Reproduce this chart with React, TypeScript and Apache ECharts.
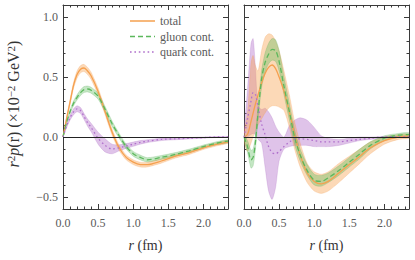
import React, { useEffect, useRef } from 'react';
import * as echarts from 'echarts';

// ---------- data ----------
const rLeft = [0, 0.05, 0.1, 0.15, 0.2, 0.25, 0.3, 0.35, 0.4, 0.5, 0.6, 0.7, 0.8, 0.9, 1.0, 1.1, 1.2, 1.4, 1.6, 1.8, 2.0, 2.2, 2.35];
const totalLeft = [0, 0.15, 0.29, 0.43, 0.52, 0.565, 0.575, 0.55, 0.51, 0.38, 0.21, 0.04, -0.09, -0.17, -0.21, -0.23, -0.23, -0.2, -0.16, -0.13, -0.09, -0.06, -0.04];
const totalLeftErr = [0, 0.01, 0.02, 0.025, 0.03, 0.03, 0.03, 0.03, 0.03, 0.028, 0.025, 0.025, 0.022, 0.02, 0.02, 0.02, 0.02, 0.018, 0.016, 0.015, 0.014, 0.013, 0.012];
const gluonLeft = [0, 0.12, 0.21, 0.28, 0.33, 0.37, 0.395, 0.4, 0.39, 0.34, 0.23, 0.11, 0.01, -0.08, -0.14, -0.17, -0.19, -0.17, -0.145, -0.115, -0.08, -0.05, -0.035];
const gluonLeftErr = [0, 0.01, 0.015, 0.02, 0.022, 0.024, 0.025, 0.025, 0.025, 0.025, 0.024, 0.022, 0.02, 0.02, 0.02, 0.02, 0.018, 0.016, 0.015, 0.014, 0.013, 0.012, 0.012];
const quarkLeft = [0, 0.09, 0.16, 0.21, 0.235, 0.22, 0.17, 0.12, 0.08, -0.01, -0.07, -0.1, -0.09, -0.075, -0.06, -0.045, -0.035, -0.02, -0.015, -0.01, -0.005, 0, 0];
const quarkLeftErr = [0, 0.015, 0.02, 0.025, 0.025, 0.025, 0.025, 0.03, 0.035, 0.05, 0.055, 0.04, 0.025, 0.02, 0.018, 0.015, 0.012, 0.01, 0.008, 0.006, 0.005, 0.004, 0.004];

const rRight = [0, 0.05, 0.1, 0.13, 0.16, 0.2, 0.25, 0.3, 0.35, 0.4, 0.45, 0.5, 0.57, 0.65, 0.72, 0.8, 0.9, 1.0, 1.1, 1.2, 1.35, 1.5, 1.65, 1.8, 2.0, 2.2, 2.35];
const totalRight = [0, 0.02, 0.13, 0.2, 0.27, 0.35, 0.45, 0.53, 0.58, 0.6, 0.57, 0.5, 0.38, 0.2, 0.02, -0.15, -0.3, -0.37, -0.39, -0.37, -0.3, -0.23, -0.16, -0.09, -0.03, 0, 0.01];
const totalRightLo = [-0.04, -0.12, -0.05, 0, 0.05, 0.1, 0.15, 0.2, 0.24, 0.26, 0.26, 0.25, 0.22, 0.07, -0.1, -0.25, -0.38, -0.45, -0.47, -0.45, -0.38, -0.3, -0.22, -0.14, -0.06, -0.02, -0.01];
const totalRightHi = [0.04, 0.2, 0.62, 0.68, 0.6, 0.55, 0.72, 0.83, 0.86, 0.85, 0.8, 0.72, 0.55, 0.34, 0.13, -0.05, -0.22, -0.29, -0.31, -0.29, -0.22, -0.16, -0.1, -0.04, 0, 0.02, 0.025];
const gluonRight = [0, -0.08, -0.19, -0.17, -0.06, 0.2, 0.48, 0.62, 0.69, 0.73, 0.72, 0.63, 0.42, 0.2, 0, -0.15, -0.28, -0.36, -0.37, -0.34, -0.28, -0.21, -0.14, -0.07, -0.01, 0.015, 0.02];
const gluonRightLo = [-0.02, -0.13, -0.26, -0.24, -0.12, 0.14, 0.41, 0.54, 0.61, 0.64, 0.63, 0.55, 0.35, 0.13, -0.06, -0.2, -0.32, -0.4, -0.41, -0.38, -0.32, -0.25, -0.18, -0.1, -0.03, 0, 0.005];
const gluonRightHi = [0.02, -0.03, -0.11, -0.1, 0, 0.26, 0.55, 0.7, 0.78, 0.82, 0.81, 0.72, 0.5, 0.27, 0.06, -0.1, -0.23, -0.31, -0.32, -0.3, -0.24, -0.17, -0.1, -0.04, 0.01, 0.03, 0.035];
const quarkRight = [0, 0.15, 0.3, 0.37, 0.36, 0.25, 0.11, 0.02, -0.08, -0.13, -0.14, -0.12, -0.08, -0.04, -0.02, -0.015, -0.02, -0.03, -0.04, -0.04, -0.04, -0.03, -0.02, -0.01, 0, 0, 0];
const quarkRightLo = [-0.03, 0, 0.02, 0.03, 0.02, -0.02, -0.05, -0.25, -0.45, -0.52, -0.42, -0.2, -0.1, -0.08, -0.07, -0.07, -0.07, -0.08, -0.08, -0.08, -0.07, -0.05, -0.03, -0.02, -0.01, -0.005, -0.005];
const quarkRightHi = [0.03, 0.4, 0.78, 0.82, 0.6, 0.26, 0.23, 0.24, 0.21, 0.16, 0.09, 0.04, 0, 0.1, 0.14, 0.16, 0.14, 0.08, 0.01, -0.01, -0.02, -0.01, 0, 0, 0.005, 0.005, 0.005];

const legendNames = ['total', 'gluon cont.', 'quark cont.'];
const xMajor = [0, 0.5, 1.0, 1.5, 2.0];
const yMajor = [-0.5, 0, 0.5, 1.0];

// ---------- styling ----------
const X_MIN = 0;
const X_MAX = 2.35;
const Y_MIN = -0.6;
const Y_MAX = 1.1;
const FONT = "'Liberation Serif', 'DejaVu Serif', serif";
const FRAME = '#3a3a3a';
const LABEL = '#5a5a5a';
const C_TOTAL = '#f5a04f';
const C_GLUON = '#5cb85c';
const C_QUARK = '#b070cc';
const B_TOTAL = 'rgba(248,160,75,0.40)';
const B_GLUON = 'rgba(90,185,90,0.36)';
const B_QUARK = 'rgba(175,105,200,0.40)';
const E_TOTAL = 'rgba(240,150,70,0.35)';
const E_GLUON = 'rgba(80,170,80,0.35)';
const E_QUARK = 'rgba(165,95,190,0.35)';
const DASH_G = [5, 3];
const DASH_Q = [1.6, 2.8];

const pairs = (xs: number[], ys: number[]) => xs.map((x, i) => [x, ys[i]]);

const fmt = (v: number) => {
  if (Math.abs(v * 2 - Math.round(v * 2)) > 1e-6) return '';
  const s = Math.abs(v).toFixed(1);
  return v < -1e-9 ? '\u2212' + s : s;
};

function band(g: number, xs: number[], lo: number[], hi: number[], fill: string, edge: string) {
  return {
    type: 'custom',
    coordinateSystem: 'cartesian2d',
    xAxisIndex: g * 4,
    yAxisIndex: g * 4,
    data: xs.map((x, i) => [x, lo[i], hi[i]]),
    encode: { x: 0, y: [1, 2] },
    silent: true,
    clip: true,
    z: 1,
    renderItem: (params: any, api: any) => {
      if (params.dataIndex !== 0) return null;
      const up = xs.map((x, i) => api.coord([x, hi[i]]));
      const dn = xs.map((x, i) => api.coord([x, lo[i]])).reverse();
      return {
        type: 'polygon',
        shape: { points: [...up, ...dn], smooth: 0.25 },
        style: { fill, stroke: edge, lineWidth: 0.6 },
      };
    },
  };
}

function curve(name: string, g: number, xs: number[], ys: number[], color: string, type: any, extra: any = {}) {
  return {
    type: 'line',
    name,
    xAxisIndex: g * 4,
    yAxisIndex: g * 4,
    data: pairs(xs, ys),
    symbol: 'none',
    smooth: 0.3,
    z: 3,
    lineStyle: { color, width: 1.3, type },
    itemStyle: { color },
    ...extra,
  };
}

const zeroLine = {
  silent: true,
  symbol: 'none',
  label: { show: false },
  lineStyle: { color: '#222', width: 1, type: 'solid' },
  data: [{ yAxis: 0 }],
};

function xAxesFor(g: number) {
  const base = {
    type: 'value',
    gridIndex: g,
    min: X_MIN,
    max: X_MAX,
    splitLine: { show: false },
  };
  const lineOn = { show: true, onZero: false, lineStyle: { color: FRAME, width: 1 } };
  const tickStyle = { color: FRAME, width: 1 };
  return [
    {
      ...base,
      position: 'bottom',
      interval: 0.1,
      axisLine: lineOn,
      axisTick: { show: true, inside: true, length: 2.5, lineStyle: tickStyle },
      axisLabel: { formatter: fmt, color: LABEL, fontFamily: FONT, fontSize: 12, margin: 8 },
      name: '{i|r} (fm)',
      nameLocation: 'middle',
      nameGap: 29,
      nameTextStyle: {
        fontFamily: FONT,
        fontSize: 14,
        color: '#333',
        rich: { i: { fontFamily: FONT, fontSize: 14, fontStyle: 'italic', color: '#333' } },
      },
    },
    {
      ...base,
      position: 'bottom',
      axisLine: { show: false, onZero: false },
      axisTick: { show: true, inside: true, length: 5, lineStyle: tickStyle, customValues: xMajor },
      axisLabel: { show: false },
    },
    {
      ...base,
      position: 'top',
      interval: 0.1,
      axisLine: lineOn,
      axisTick: { show: true, inside: true, length: 2.5, lineStyle: tickStyle },
      axisLabel: { show: false },
    },
    {
      ...base,
      position: 'top',
      axisLine: { show: false, onZero: false },
      axisTick: { show: true, inside: true, length: 5, lineStyle: tickStyle, customValues: xMajor },
      axisLabel: { show: false },
    },
  ];
}

function yAxesFor(g: number) {
  const base = {
    type: 'value',
    gridIndex: g,
    min: Y_MIN,
    max: Y_MAX,
    splitLine: { show: false },
  };
  const lineOn = { show: true, onZero: false, lineStyle: { color: FRAME, width: 1 } };
  const tickStyle = { color: FRAME, width: 1 };
  return [
    {
      ...base,
      position: 'left',
      interval: 0.1,
      axisLine: lineOn,
      axisTick: { show: true, inside: true, length: 2.5, lineStyle: tickStyle },
      axisLabel: g === 0
        ? { formatter: fmt, color: LABEL, fontFamily: FONT, fontSize: 12, margin: 5 }
        : { show: false },
    },
    {
      ...base,
      position: 'left',
      axisLine: { show: false, onZero: false },
      axisTick: { show: true, inside: true, length: 5, lineStyle: tickStyle, customValues: yMajor },
      axisLabel: { show: false },
    },
    {
      ...base,
      position: 'right',
      interval: 0.1,
      axisLine: lineOn,
      axisTick: { show: true, inside: true, length: 2.5, lineStyle: tickStyle },
      axisLabel: { show: false },
    },
    {
      ...base,
      position: 'right',
      axisLine: { show: false, onZero: false },
      axisTick: { show: true, inside: true, length: 5, lineStyle: tickStyle, customValues: yMajor },
      axisLabel: { show: false },
    },
  ];
}

const errLo = (c: number[], e: number[]) => c.map((v, i) => v - e[i]);
const errHi = (c: number[], e: number[]) => c.map((v, i) => v + e[i]);

function legendGraphic() {
  const items = [
    { name: legendNames[0], color: C_TOTAL, dash: null as any },
    { name: legendNames[1], color: C_GLUON, dash: DASH_G },
    { name: legendNames[2], color: C_QUARK, dash: DASH_Q },
  ];
  const out: any[] = [];
  items.forEach((it, k) => {
    const y = 21 + k * 15.5;
    out.push({
      type: 'line',
      shape: { x1: 130, y1: y, x2: 155, y2: y },
      style: { stroke: it.color, lineWidth: 1.5, lineDash: it.dash || undefined },
      silent: true,
    });
    out.push({
      type: 'text',
      x: 160,
      y,
      style: { text: it.name, fontFamily: FONT, fontSize: 12, fill: LABEL, align: 'left', verticalAlign: 'middle' },
      silent: true,
    });
  });
  return out;
}

export default function App() {
  const ref = useRef<HTMLDivElement>(null);

  useEffect(() => {
    if (!ref.current) return;
    const chart = echarts.init(ref.current, undefined, { renderer: 'svg' });

    const series: any[] = [
      band(0, rLeft, errLo(quarkLeft, quarkLeftErr), errHi(quarkLeft, quarkLeftErr), B_QUARK, E_QUARK),
      band(0, rLeft, errLo(totalLeft, totalLeftErr), errHi(totalLeft, totalLeftErr), B_TOTAL, E_TOTAL),
      band(0, rLeft, errLo(gluonLeft, gluonLeftErr), errHi(gluonLeft, gluonLeftErr), B_GLUON, E_GLUON),
      curve(legendNames[0], 0, rLeft, totalLeft, C_TOTAL, 'solid', { markLine: zeroLine }),
      curve(legendNames[1], 0, rLeft, gluonLeft, C_GLUON, DASH_G),
      curve(legendNames[2], 0, rLeft, quarkLeft, C_QUARK, DASH_Q),
      band(1, rRight, quarkRightLo, quarkRightHi, B_QUARK, E_QUARK),
      band(1, rRight, totalRightLo, totalRightHi, B_TOTAL, E_TOTAL),
      band(1, rRight, gluonRightLo, gluonRightHi, B_GLUON, E_GLUON),
      curve(legendNames[0], 1, rRight, totalRight, C_TOTAL, 'solid', { markLine: zeroLine }),
      curve(legendNames[1], 1, rRight, gluonRight, C_GLUON, DASH_G),
      curve(legendNames[2], 1, rRight, quarkRight, C_QUARK, DASH_Q),
    ];

    chart.setOption({
      animation: false,
      backgroundColor: '#fff',
      grid: [
        { left: 63, top: 5, width: 165, height: 204 },
        { left: 244, top: 5, width: 165, height: 204 },
      ],
      xAxis: [...xAxesFor(0), ...xAxesFor(1)],
      yAxis: [...yAxesFor(0), ...yAxesFor(1)],
      graphic: [
        ...legendGraphic(),
        {
          type: 'text',
          x: 13,
          y: 104,
          rotation: Math.PI / 2,
          style: {
            text: '{i|r}{s|2}{i|p}(r) (\u00d710{s|\u22122} GeV{s|2})',
            fontFamily: FONT,
            fontSize: 16,
            fill: '#333',
            align: 'center',
            verticalAlign: 'middle',
            rich: {
              i: { fontFamily: FONT, fontSize: 16, fontStyle: 'italic', fill: '#333' },
              s: { fontFamily: FONT, fontSize: 11, fill: '#333', verticalAlign: 'top' },
            },
          },
        },
      ],
      series,
    });

    return () => chart.dispose();
  }, []);

  return (
    <div
      ref={ref}
      style={{ position: 'fixed', left: 0, top: 0, width: 415, height: 260, background: '#fff' }}
    />
  );
}
